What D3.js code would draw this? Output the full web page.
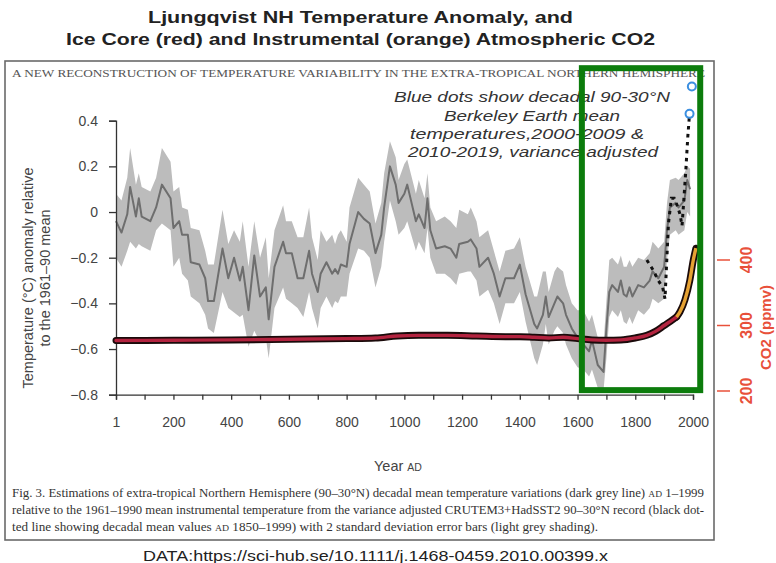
<!DOCTYPE html>
<html><head><meta charset="utf-8">
<script src="https://cdn.jsdelivr.net/npm/d3@7"></script>
<style>html,body{margin:0;padding:0;background:#fff;}svg{display:block;}</style>
</head><body>
<script>
// ---------- DATA ----------
const reconYears = [
  1,20,40,50,70,80,90,120,140,160,
  190,200,220,230,250,260,290,310,320,340,
  370,390,410,430,440,460,480,500,520,530,
  550,580,590,610,630,650,670,680,700,710,
  730,750,760,770,780,800,810,840,860,880,
  900,920,930,950,970,980,1000,1010,1040,1050,
  1070,1080,1090,1110,1140,1160,1180,1190,1220,1230,
  1250,1260,1290,1310,1330,1350,1380,1400,1420,1450,
  1460,1480,1490,1500,1520,1530,1550,1560,1580,1600,
  1620,1640,1650,1670,1690,1700,1710,1720,1740,1750,
  1760,1770,1780,1790,1810,1830,1850,1860,1880,1900,
  1910,1920,1940,1950,1970,1980,1990];
const reconTemp = [
  -0.04,-0.09,-0.01,0.11,-0.02,0.06,-0.02,-0.04,0.02,0.12,
  0.06,-0.07,-0.04,-0.10,-0.10,-0.22,-0.23,-0.29,-0.39,-0.39,
  -0.16,-0.29,-0.20,-0.30,-0.24,-0.43,-0.19,-0.37,-0.33,-0.47,
  -0.24,-0.13,-0.18,-0.18,-0.29,-0.29,-0.17,-0.27,-0.35,-0.27,
  -0.22,-0.27,-0.25,-0.27,-0.23,-0.24,-0.14,0.00,-0.03,-0.05,
  -0.18,-0.10,0.02,0.20,0.12,0.04,0.08,0.12,-0.04,-0.01,
  -0.07,0.06,-0.08,-0.16,-0.15,-0.16,-0.20,-0.14,-0.13,-0.12,
  -0.16,-0.24,-0.20,-0.27,-0.37,-0.29,-0.29,-0.23,-0.36,-0.49,
  -0.51,-0.45,-0.37,-0.46,-0.40,-0.37,-0.40,-0.45,-0.51,-0.55,
  -0.58,-0.61,-0.56,-0.67,-0.70,-0.51,-0.35,-0.32,-0.35,-0.30,
  -0.36,-0.37,-0.33,-0.37,-0.32,-0.33,-0.30,-0.26,-0.29,-0.24,
  -0.08,0.02,0.04,0.02,0.05,0.14,0.10];
const reconLow = [
  -0.20,-0.24,-0.17,-0.13,-0.16,-0.14,-0.15,-0.17,-0.08,-0.05,
  -0.08,-0.24,-0.20,-0.27,-0.30,-0.37,-0.40,-0.45,-0.51,-0.53,
  -0.35,-0.42,-0.44,-0.46,-0.45,-0.59,-0.52,-0.57,-0.55,-0.64,
  -0.42,-0.33,-0.38,-0.40,-0.42,-0.46,-0.35,-0.42,-0.51,-0.42,
  -0.37,-0.42,-0.39,-0.40,-0.37,-0.37,-0.27,-0.16,-0.17,-0.20,
  -0.33,-0.24,-0.13,0.05,-0.04,-0.10,-0.07,-0.04,-0.17,-0.13,
  -0.18,-0.07,-0.20,-0.27,-0.27,-0.29,-0.32,-0.27,-0.26,-0.26,
  -0.30,-0.37,-0.34,-0.40,-0.49,-0.40,-0.40,-0.35,-0.48,-0.64,
  -0.67,-0.58,-0.49,-0.58,-0.52,-0.50,-0.53,-0.58,-0.64,-0.68,
  -0.69,-0.72,-0.69,-0.77,-0.78,-0.64,-0.46,-0.43,-0.46,-0.43,
  -0.48,-0.49,-0.46,-0.49,-0.43,-0.45,-0.42,-0.38,-0.40,-0.38,
  -0.21,-0.10,-0.08,-0.10,-0.08,0.00,-0.02];
const reconHigh = [
  0.08,0.05,0.15,0.28,0.12,0.17,0.11,0.09,0.15,0.28,
  0.22,0.09,0.11,0.02,0.01,-0.07,-0.08,-0.17,-0.23,-0.23,
  0.01,-0.14,-0.08,-0.13,-0.04,-0.24,-0.04,-0.20,-0.11,-0.29,
  -0.08,0.03,-0.04,-0.04,-0.11,-0.11,0.02,-0.11,-0.21,-0.08,
  -0.13,-0.10,-0.14,-0.10,-0.08,-0.13,0.02,0.15,0.12,0.09,
  -0.05,0.04,0.17,0.31,0.24,0.14,0.21,0.23,0.08,0.14,
  0.06,0.17,0.02,-0.04,-0.02,-0.04,-0.07,0.01,-0.01,0.02,
  -0.04,-0.11,-0.08,-0.17,-0.26,-0.17,-0.16,-0.11,-0.24,-0.37,
  -0.37,-0.26,-0.26,-0.35,-0.26,-0.24,-0.26,-0.32,-0.40,-0.43,
  -0.43,-0.48,-0.45,-0.55,-0.58,-0.39,-0.21,-0.20,-0.23,-0.19,
  -0.24,-0.24,-0.21,-0.24,-0.20,-0.21,-0.18,-0.13,-0.16,-0.13,
  0.04,0.14,0.15,0.14,0.17,0.20,0.19];

// instrumental decadal means (black dotted line)
const instYears = [1840,1860,1880,1895,1903,1915,1925,1935,1945,1955,1962,1968,1975,1982,1988];
const instTemp  = [-0.21,-0.25,-0.30,-0.33,-0.38,-0.05,0.06,0.06,0.03,-0.01,-0.06,0.05,0.18,0.33,0.43];

// Berkeley Earth decadal means (blue open circles)
const berkLabels = ["2000-2009","2010-2019"];
const berkYears  = [1988,1996];
const berkTemp   = [0.43,0.55];

// CO2: ice core (red) and instrumental (orange), ppmv
const iceYears = [1,200,400,600,800,900,975,1050,1150,1250,1350,1400,1450,1500,1550,1600,1650,1700,1750,1800,1840,1870,1900,1930,1943];
const iceCO2   = [277,277.5,278,279,280,281,284,285,285,284,283,283,282,281,282,280,278,277.5,278,281,285,291,300,309,313];
const instCO2Years = [1943,1955,1972,1989,2001,2010];
const instCO2      = [313,321,339,369,400,418];

// axes
const yTicks = [0.4,0.2,0,-0.2,-0.4,-0.6,-0.8];
const xTickYears = [1,100,200,300,400,500,600,700,800,900,1000,1100,1200,1300,1400,1500,1600,1700,1800,1900,2000];
const xLabelYears = [1,200,400,600,800,1000,1200,1400,1600,1800,2000];
const co2Ticks = [200,300,400];
// highlighted region (green box), in data units
const boxYears = [1615,2025];
const boxTemps = [0.63,-0.78];

// ---------- DRAWING ----------
const W = 776, H = 563;
const svg = d3.select("body").append("svg").attr("width", W).attr("height", H);
svg.append("rect").attr("width", W).attr("height", H).attr("fill", "#fff");

const x = d3.scaleLinear().domain([1, 2000]).range([116, 693]);
const y = d3.scaleLinear().domain([-0.8, 0.4]).range([394.7, 120.7]);
const yC = d3.scaleLinear().domain([200, 400]).range([391, 260]);

const sans = "'Liberation Sans', Arial, sans-serif";
const serif = "'Liberation Serif', 'Times New Roman', serif";

// Titles
svg.append("text").attr("x", 148).attr("y", 23).attr("textLength", 425).attr("lengthAdjust", "spacingAndGlyphs")
  .attr("font-family", sans).attr("font-weight", "bold").attr("font-size", 17).attr("fill", "#222")
  .text("Ljungqvist NH Temperature Anomaly, and");
svg.append("text").attr("x", 66).attr("y", 45).attr("textLength", 589).attr("lengthAdjust", "spacingAndGlyphs")
  .attr("font-family", sans).attr("font-weight", "bold").attr("font-size", 17).attr("fill", "#222")
  .text("Ice Core (red) and Instrumental (orange) Atmospheric CO2");

// Figure box
svg.append("rect").attr("x", 5).attr("y", 61).attr("width", 709).attr("height", 479)
  .attr("fill", "none").attr("stroke", "#6a6a6a").attr("stroke-width", 1.6);

svg.append("text").attr("x", 12).attr("y", 77).attr("textLength", 693).attr("lengthAdjust", "spacingAndGlyphs")
  .attr("font-family", serif).attr("font-size", 10.5).attr("fill", "#555")
  .text("A NEW RECONSTRUCTION OF TEMPERATURE VARIABILITY IN THE EXTRA-TROPICAL NORTHERN HEMISPHERE");

// band
const recon = reconYears.map((yr, i) => ({yr, t: reconTemp[i], lo: reconLow[i], hi: reconHigh[i]}));
const defs = svg.append("defs");
defs.append("filter").attr("id", "soft").append("feGaussianBlur").attr("stdDeviation", 0.7);
svg.append("path").datum(recon)
  .attr("d", d3.area().x(d => x(d.yr)).y0(d => y(d.lo)).y1(d => y(d.hi)))
  .attr("fill", "#bcbcbc").attr("filter", "url(#soft)");
svg.append("path").datum(recon)
  .attr("d", d3.line().x(d => x(d.yr)).y(d => y(d.t)))
  .attr("fill", "none").attr("stroke", "#6e6e6e").attr("stroke-width", 2).attr("stroke-linejoin", "round");

// axes
const fmt = d => (d < 0 ? "\u2212" : "") + (d === 0 ? "0" : Math.abs(d).toFixed(1));
const gy = svg.append("g").attr("transform", "translate(116,0)")
  .call(d3.axisLeft(y).tickValues(yTicks).tickSize(7).tickPadding(11).tickFormat(fmt));
gy.select(".domain").attr("stroke", "#333").attr("stroke-width", 1.3);
gy.selectAll(".tick line").attr("stroke", "#333").attr("stroke-width", 1.3);
gy.selectAll(".tick text").attr("font-family", sans).attr("font-size", 14).attr("fill", "#444");

const gx = svg.append("g").attr("transform", "translate(0,394.7)")
  .call(d3.axisBottom(x).tickValues(xTickYears).tickSize(5).tickPadding(17)
    .tickFormat(d => xLabelYears.includes(d) ? String(d) : ""));
gx.select(".domain").attr("stroke", "#333").attr("stroke-width", 1.3);
gx.selectAll(".tick line").attr("stroke", "#333").attr("stroke-width", 1.3);
gx.selectAll(".tick text").attr("font-family", sans).attr("font-size", 14).attr("fill", "#444");

// axis titles
svg.append("text").attr("transform", "translate(33,278) rotate(-90)")
  .attr("text-anchor", "middle").attr("font-family", sans).attr("font-size", 14.5).attr("fill", "#444")
  .text("Temperature (\u00B0C) anomaly relative");
svg.append("text").attr("transform", "translate(50,278) rotate(-90)")
  .attr("text-anchor", "middle").attr("font-family", sans).attr("font-size", 14.5).attr("fill", "#444")
  .text("to the 1961\u201390 mean");

const xt = svg.append("text").attr("x", 398).attr("y", 471).attr("text-anchor", "middle")
  .attr("font-family", sans).attr("font-size", 14.5).attr("fill", "#444");
xt.append("tspan").text("Year ");
xt.append("tspan").attr("font-size", 10.5).text("AD");

// CO2 lines
const co2Line = d3.line().curve(d3.curveMonotoneX);
const icePts = iceYears.map((yr, i) => [x(yr), yC(iceCO2[i])]);
const instPts = instCO2Years.map((yr, i) => [x(yr), yC(instCO2[i])]);
[icePts, instPts].forEach(pts => {
  svg.append("path").attr("d", co2Line(pts)).attr("fill", "none").attr("stroke", "#1a0a0a")
    .attr("stroke-width", 7).attr("stroke-linecap", "round").attr("stroke-linejoin", "round");
});
svg.append("path").attr("d", co2Line(icePts)).attr("fill", "none").attr("stroke", "#b3233f")
  .attr("stroke-width", 3.4).attr("stroke-linecap", "round");
svg.append("path").attr("d", co2Line(instPts)).attr("fill", "none").attr("stroke", "#e6a233")
  .attr("stroke-width", 3.4).attr("stroke-linecap", "butt");

// instrumental dotted
svg.append("path").attr("d", d3.line()(instYears.map((yr, i) => [x(yr), y(instTemp[i])])))
  .attr("fill", "none").attr("stroke", "#111").attr("stroke-width", 3).attr("stroke-dasharray", "3.5,4.5");

// Berkeley circles
svg.selectAll("circle.berk").data(berkYears).join("circle").attr("class", "berk")
  .attr("cx", (d) => x(d)).attr("cy", (d, i) => y(berkTemp[i])).attr("r", 4)
  .attr("fill", "#fff").attr("stroke", "#3b8fe0").attr("stroke-width", 2);

// CO2 axis (right)
co2Ticks.forEach(v => {
  svg.append("line").attr("x1", 717).attr("x2", 730).attr("y1", yC(v)).attr("y2", yC(v))
    .attr("stroke", "#e8503a").attr("stroke-width", 1.5);
  svg.append("text").attr("transform", `translate(752,${yC(v)}) rotate(-90)`)
    .attr("text-anchor", "middle").attr("font-family", sans).attr("font-size", 16).attr("font-weight", "bold")
    .attr("fill", "#e8503a").text(String(v));
});
svg.append("text").attr("transform", "translate(771,370) rotate(-90)")
  .attr("font-family", sans).attr("font-size", 15).attr("font-weight", "bold").attr("fill", "#e8503a")
  .text("CO2 (ppmv)");

// annotation
const ann = [
  ["Blue dots show decadal 90-30\u00B0N", 394, 102, 276],
  ["Berkeley Earth mean", 444, 121, 176],
  ["temperatures,2000-2009 &", 410, 139, 234],
  ["2010-2019, variance adjusted", 408, 157, 250]];
ann.forEach(a => svg.append("text").attr("x", a[1]).attr("y", a[2]).attr("textLength", a[3])
  .attr("lengthAdjust", "spacingAndGlyphs").attr("font-family", sans).attr("font-style", "italic")
  .attr("font-size", 14.5).attr("fill", "#333").text(a[0]));

// green highlight box
svg.append("rect").attr("x", x(boxYears[0])).attr("y", y(boxTemps[0]))
  .attr("width", x(boxYears[1]) - x(boxYears[0])).attr("height", y(boxTemps[1]) - y(boxTemps[0]))
  .attr("fill", "none").attr("stroke", "#0c7c0c").attr("stroke-width", 6);

// caption
const cap = [
  [["Fig. 3. Estimations of extra-tropical Northern Hemisphere (90\u201330\u00B0N) decadal mean temperature variations (dark grey line) ", false], ["AD", true], [" 1\u20131999", false]],
  [["relative to the 1961\u20131990 mean instrumental temperature from the variance adjusted CRUTEM3+HadSST2 90\u201330\u00B0N record (black dot-", false]],
  [["ted line showing decadal mean values ", false], ["AD", true], [" 1850\u20131999) with 2 standard deviation error bars (light grey shading).", false]]];
const capLen = [692, 692, 586];
const capY = [497, 514, 531];
cap.forEach((parts, i) => {
  const t = svg.append("text").attr("x", 12).attr("y", capY[i]).attr("textLength", capLen[i])
    .attr("lengthAdjust", "spacingAndGlyphs").attr("font-family", serif).attr("font-size", 11.5).attr("fill", "#333");
  parts.forEach(p => t.append("tspan").attr("font-size", p[1] ? 8.5 : 11.5).text(p[0]));
});

svg.append("text").attr("x", 143).attr("y", 561).attr("textLength", 465).attr("lengthAdjust", "spacingAndGlyphs")
  .attr("font-family", sans).attr("font-size", 14.5).attr("fill", "#222")
  .text("DATA:https://sci-hub.se/10.1111/j.1468-0459.2010.00399.x");
</script>
</body></html>
